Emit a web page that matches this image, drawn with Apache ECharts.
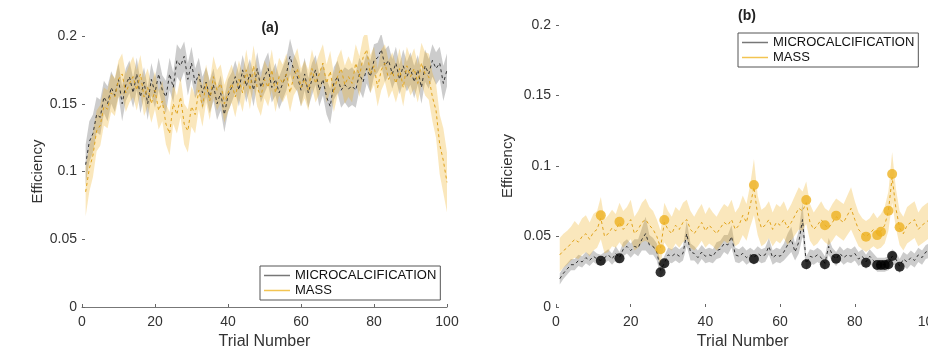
<!DOCTYPE html>
<html>
<head>
<meta charset="utf-8">
<script src="https://cdn.jsdelivr.net/npm/echarts@6/dist/echarts.min.js"></script>
<style>
html,body{margin:0;padding:0;background:#fff;}
#c{width:928px;height:348px;}
</style>
</head>
<body>
<div id="c"></div>
<script>
// ---------- DATA ----------
const seriesNames = ['MICROCALCIFICATION', 'MASS'];
const panelTitles = ['(a)', '(b)'];
const xTicks = [0, 20, 40, 60, 80, 100];
const yTicks = [0, 0.05, 0.1, 0.15, 0.2];

// Panel (a) means and spreads, trials 1..100
const mcA = [
 0.105,0.122,0.128,0.142,0.140,0.155,0.150,0.162,0.156,0.168,
 0.150,0.164,0.170,0.158,0.172,0.155,0.166,0.150,0.168,0.158,
 0.172,0.160,0.155,0.172,0.162,0.182,0.178,0.185,0.168,0.180,
 0.165,0.172,0.158,0.166,0.155,0.164,0.150,0.158,0.142,0.156,
 0.162,0.170,0.160,0.175,0.163,0.172,0.160,0.176,0.162,0.170,
 0.176,0.162,0.168,0.158,0.165,0.172,0.185,0.175,0.170,0.160,
 0.172,0.158,0.168,0.175,0.160,0.168,0.155,0.148,0.165,0.170,
 0.160,0.164,0.161,0.163,0.160,0.172,0.166,0.176,0.170,0.182,
 0.184,0.190,0.178,0.182,0.172,0.180,0.168,0.178,0.170,0.176,
 0.166,0.175,0.162,0.178,0.172,0.182,0.176,0.180,0.165,0.175];
const mcAsd = [
 0.015,0.015,0.014,0.013,0.013,0.012,0.013,0.012,0.012,0.012,
 0.013,0.012,0.012,0.011,0.012,0.012,0.011,0.012,0.012,0.011,
 0.012,0.011,0.012,0.012,0.011,0.012,0.012,0.011,0.012,0.012,
 0.011,0.012,0.012,0.011,0.012,0.012,0.012,0.013,0.013,0.012,
 0.011,0.012,0.012,0.011,0.012,0.011,0.012,0.012,0.011,0.012,
 0.012,0.011,0.012,0.012,0.012,0.012,0.013,0.012,0.011,0.012,
 0.012,0.011,0.012,0.011,0.012,0.012,0.013,0.013,0.012,0.012,
 0.013,0.013,0.014,0.014,0.013,0.012,0.012,0.011,0.012,0.012,
 0.011,0.012,0.012,0.011,0.011,0.012,0.011,0.012,0.011,0.012,
 0.012,0.011,0.012,0.012,0.011,0.012,0.012,0.012,0.013,0.012];
const massA = [
 0.085,0.102,0.112,0.130,0.134,0.148,0.146,0.158,0.155,0.168,
 0.172,0.158,0.165,0.170,0.160,0.172,0.155,0.162,0.150,0.160,
 0.145,0.152,0.135,0.128,0.150,0.142,0.155,0.135,0.130,0.148,
 0.142,0.160,0.148,0.165,0.152,0.170,0.160,0.165,0.150,0.158,
 0.165,0.155,0.168,0.158,0.175,0.160,0.178,0.162,0.155,0.168,
 0.162,0.175,0.158,0.170,0.165,0.172,0.158,0.170,0.176,0.162,
 0.168,0.160,0.176,0.165,0.172,0.180,0.165,0.174,0.158,0.170,
 0.176,0.164,0.170,0.165,0.180,0.170,0.184,0.190,0.172,0.178,
 0.162,0.175,0.180,0.168,0.174,0.165,0.176,0.162,0.178,0.170,
 0.176,0.165,0.180,0.172,0.170,0.155,0.145,0.120,0.108,0.092];
const massAsd = [
 0.018,0.017,0.016,0.015,0.015,0.014,0.014,0.014,0.014,0.014,
 0.015,0.014,0.014,0.015,0.015,0.014,0.014,0.014,0.014,0.014,
 0.014,0.015,0.015,0.016,0.015,0.014,0.015,0.015,0.016,0.015,
 0.014,0.014,0.015,0.014,0.014,0.015,0.015,0.014,0.014,0.014,
 0.014,0.015,0.014,0.014,0.015,0.014,0.015,0.014,0.014,0.014,
 0.014,0.015,0.014,0.014,0.014,0.015,0.014,0.014,0.015,0.014,
 0.014,0.015,0.014,0.014,0.015,0.014,0.014,0.015,0.014,0.014,
 0.014,0.014,0.015,0.014,0.014,0.015,0.015,0.014,0.014,0.014,
 0.014,0.015,0.014,0.014,0.014,0.014,0.015,0.014,0.014,0.014,
 0.015,0.014,0.015,0.016,0.017,0.018,0.020,0.022,0.024,0.022];

// Panel (b)
const mcB = [
 0.020,0.024,0.027,0.030,0.030,0.033,0.032,0.035,0.033,0.036,
 0.034,0.033,0.035,0.037,0.034,0.038,0.035,0.041,0.043,0.040,
 0.043,0.042,0.048,0.052,0.044,0.043,0.039,0.026,0.031,0.037,
 0.036,0.038,0.036,0.038,0.052,0.039,0.038,0.035,0.039,0.036,
 0.037,0.036,0.040,0.041,0.045,0.044,0.050,0.037,0.036,0.038,
 0.035,0.037,0.035,0.038,0.036,0.037,0.043,0.035,0.037,0.036,
 0.039,0.044,0.048,0.039,0.046,0.062,0.031,0.036,0.035,0.037,
 0.035,0.031,0.043,0.037,0.034,0.038,0.035,0.037,0.036,0.038,
 0.034,0.036,0.032,0.036,0.033,0.030,0.030,0.030,0.031,0.036,
 0.034,0.029,0.034,0.032,0.035,0.033,0.037,0.035,0.039,0.040];
const mcBsd = [
 0.004,0.004,0.004,0.004,0.004,0.004,0.004,0.004,0.004,0.004,
 0.004,0.004,0.004,0.004,0.004,0.005,0.004,0.005,0.005,0.005,
 0.005,0.006,0.008,0.012,0.007,0.006,0.006,0.005,0.005,0.005,
 0.005,0.005,0.005,0.005,0.009,0.006,0.005,0.005,0.005,0.005,
 0.005,0.005,0.006,0.006,0.006,0.007,0.008,0.005,0.005,0.005,
 0.005,0.005,0.005,0.005,0.005,0.005,0.006,0.005,0.005,0.005,
 0.006,0.008,0.009,0.006,0.008,0.012,0.005,0.005,0.005,0.005,
 0.005,0.005,0.006,0.005,0.005,0.005,0.005,0.005,0.005,0.005,
 0.005,0.005,0.005,0.005,0.005,0.005,0.005,0.005,0.005,0.005,
 0.005,0.005,0.005,0.005,0.005,0.005,0.005,0.005,0.005,0.005];
const massB = [
 0.037,0.040,0.042,0.045,0.048,0.046,0.050,0.052,0.048,0.053,
 0.055,0.063,0.050,0.052,0.056,0.054,0.060,0.055,0.058,0.062,
 0.052,0.055,0.060,0.062,0.058,0.055,0.050,0.042,0.060,0.055,
 0.052,0.058,0.055,0.060,0.062,0.055,0.052,0.056,0.060,0.054,
 0.058,0.055,0.052,0.056,0.060,0.058,0.062,0.055,0.058,0.065,
 0.060,0.072,0.085,0.065,0.056,0.058,0.062,0.055,0.060,0.058,
 0.062,0.056,0.060,0.065,0.070,0.068,0.074,0.060,0.055,0.058,
 0.062,0.058,0.056,0.060,0.064,0.062,0.060,0.065,0.070,0.062,
 0.055,0.052,0.050,0.052,0.055,0.052,0.054,0.058,0.068,0.092,
 0.070,0.056,0.052,0.058,0.060,0.062,0.055,0.058,0.060,0.062];
const massBsd = [
 0.012,0.012,0.012,0.012,0.013,0.012,0.013,0.013,0.012,0.013,
 0.013,0.015,0.012,0.013,0.013,0.012,0.014,0.013,0.013,0.014,
 0.012,0.013,0.014,0.015,0.013,0.013,0.012,0.012,0.014,0.013,
 0.012,0.013,0.013,0.014,0.014,0.013,0.012,0.013,0.013,0.012,
 0.013,0.012,0.012,0.013,0.013,0.013,0.014,0.012,0.013,0.014,
 0.013,0.015,0.020,0.014,0.013,0.013,0.013,0.012,0.013,0.013,
 0.013,0.012,0.013,0.014,0.015,0.014,0.015,0.013,0.012,0.013,
 0.013,0.012,0.012,0.013,0.013,0.013,0.013,0.014,0.015,0.013,
 0.012,0.011,0.011,0.011,0.012,0.011,0.012,0.013,0.014,0.018,
 0.014,0.012,0.012,0.013,0.013,0.013,0.012,0.013,0.013,0.013];

// Marked trials in panel (b)
const dotTrials = [12, 17, 28, 29, 53, 67, 72, 75, 83, 86, 87, 88, 89, 90, 92];
const dotMass   = [0.065,0.0605,0.041,0.0617,0.0865,0.0759,0.058,0.0648,0.0499,0.051,0.0534,null,0.0683,0.0943,0.0565];
const dotMC     = [0.0328,0.0345,0.0246,0.031,0.034,0.0303,0.0303,0.0343,0.0314,0.0298,0.0298,0.0298,0.0303,0.0362,0.0286];

// ---------- BUILD ----------
const FONT = 'Liberation Sans, Arial, sans-serif';
// category axis 0..100 (trial 0 has no data)
const xCategories = ['0'].concat(mcA.map((_, i) => String(i + 1)));
const withLead = arr => [null].concat(arr);
const lowArr = (m, s) => withLead(m.map((v, i) => +(v - s[i]).toFixed(4)));
const spanArr = (m, s) => withLead(s.map(v => +(2 * v).toFixed(4)));

const GRAY_BAND = 'rgba(120,120,120,0.38)';
const ORANGE_BAND = 'rgba(237,177,32,0.30)';

function band(name, m, s, color, idx, z) {
  return [
    { name: name + '_lo', type: 'line', xAxisIndex: idx, yAxisIndex: idx, stack: name,
      data: lowArr(m, s), showSymbol: false, symbol: 'none', silent: true,
      lineStyle: { opacity: 0 }, z: z },
    { name: name + '_hi', type: 'line', xAxisIndex: idx, yAxisIndex: idx, stack: name,
      data: spanArr(m, s), showSymbol: false, symbol: 'none', silent: true,
      lineStyle: { opacity: 0 }, areaStyle: { color: color, opacity: 1 }, z: z }
  ];
}
function meanLine(name, m, color, legendColor, idx) {
  return { name: name, type: 'line', xAxisIndex: idx, yAxisIndex: idx, data: withLead(m),
    showSymbol: false, symbol: 'none', itemStyle: { color: legendColor },
    lineStyle: { color: color, width: 1, type: [3, 3] }, z: 5 };
}

const showTick = (i) => xTicks.includes(Number(xCategories[i]));
function xAxisCfg(idx, showLine) {
  return { gridIndex: idx, type: 'category', data: xCategories, boundaryGap: false,
    name: 'Trial Number', nameLocation: 'middle', nameGap: 24,
    nameTextStyle: { fontFamily: FONT, fontSize: 16, color: '#333' },
    axisLine: { show: showLine, lineStyle: { color: '#777', width: 1 } },
    axisTick: { show: true, inside: true, length: 3, interval: i => showTick(i), lineStyle: { color: '#666' } },
    axisLabel: { fontFamily: FONT, fontSize: 14, color: '#333', margin: 8, interval: i => showTick(i) },
    splitLine: { show: false } };
}
function yAxisCfg(idx, gap) {
  return { gridIndex: idx, type: 'value', min: 0, max: 0.2, interval: 0.05,
    name: 'Efficiency', nameLocation: 'middle', nameGap: gap, nameRotate: 90,
    nameTextStyle: { fontFamily: FONT, fontSize: 15, color: '#333' },
    axisLine: { show: false },
    axisTick: { show: true, inside: true, length: 3, lineStyle: { color: '#666' } },
    axisLabel: { fontFamily: FONT, fontSize: 14, color: '#333', margin: 5,
      formatter: v => { const t = yTicks.find(y => Math.abs(y - v) < 1e-9); return t === undefined ? '' : String(t); } },
    splitLine: { show: false } };
}

function legendCfg(left, top) {
  return { left: left, top: top, orient: 'vertical', itemGap: 2, itemWidth: 26, itemHeight: 1.5,
    icon: 'rect', padding: [3, 4, 3, 4], borderColor: '#555', borderWidth: 1, backgroundColor: '#fff',
    textStyle: { fontFamily: FONT, fontSize: 13, color: '#111' },
    selectedMode: false,
    data: [{ name: seriesNames[0], itemStyle: { color: '#777' } },
           { name: seriesNames[1], itemStyle: { color: '#f3c451' } }] };
}

const option = {
  animation: false,
  backgroundColor: '#fff',
  title: [
    { text: panelTitles[0], left: 265, top: 16, textAlign: 'center',
      textStyle: { fontFamily: FONT, fontSize: 14, fontWeight: 'bold', color: '#222' } },
    { text: panelTitles[1], left: 742, top: 4, textAlign: 'center',
      textStyle: { fontFamily: FONT, fontSize: 14, fontWeight: 'bold', color: '#222' } }
  ],
  legend: [legendCfg(260, 266), legendCfg(738, 33)],
  grid: [
    { left: 82, top: 36, width: 365, height: 271, containLabel: false, outerBoundsMode: 'none' },
    { left: 556, top: 25, width: 373.5, height: 282, containLabel: false, outerBoundsMode: 'none' }
  ],
  xAxis: [xAxisCfg(0, true), xAxisCfg(1, false)],
  yAxis: [yAxisCfg(0, 37), yAxisCfg(1, 41)],
  series: [
    ...band('mcA', mcA, mcAsd, GRAY_BAND, 0, 1),
    ...band('massA', massA, massAsd, ORANGE_BAND, 0, 2),
    meanLine(seriesNames[0], mcA, '#333', '#777', 0),
    meanLine(seriesNames[1], massA, '#e0a21a', '#f3c451', 0),
    ...band('mcB', mcB, mcBsd, GRAY_BAND, 1, 1),
    ...band('massB', massB, massBsd, ORANGE_BAND, 1, 2),
    meanLine(seriesNames[0], mcB, '#333', '#777', 1),
    meanLine(seriesNames[1], massB, '#e0a21a', '#f3c451', 1),
    { name: 'massDots', type: 'scatter', xAxisIndex: 1, yAxisIndex: 1, symbolSize: 10,
      itemStyle: { color: '#EDB120' }, z: 6,
      data: dotTrials.map((t, i) => [String(t), dotMass[i]]).filter(p => p[1] !== null) },
    { name: 'mcDots', type: 'scatter', xAxisIndex: 1, yAxisIndex: 1, symbolSize: 10,
      itemStyle: { color: '#000' }, z: 6,
      data: dotTrials.map((t, i) => [String(t), dotMC[i]]) }
  ]
};

const chart = echarts.init(document.getElementById('c'), null, { renderer: 'canvas' });
chart.setOption(option);
</script>
</body>
</html>
